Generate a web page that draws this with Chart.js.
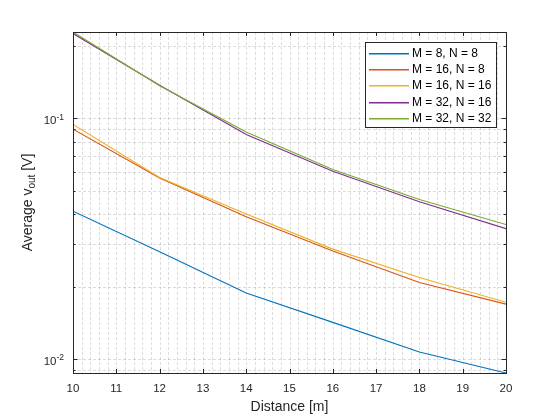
<!DOCTYPE html>
<html>
<head>
<meta charset="utf-8">
<script src="https://cdn.jsdelivr.net/npm/chart.js@4.4.1/dist/chart.umd.min.js"></script>
<style>
  html, body { margin: 0; padding: 0; background: #fff; }
  canvas { display: block; }
</style>
</head>
<body>
<canvas id="myChart" width="560" height="420"></canvas>
<script>
// values
const distance = [10, 12, 14, 16, 18, 20];
const m8n8   = [0.0411, 0.0279, 0.0188, 0.0142, 0.0107, 0.00875];
const m16n8  = [0.0900, 0.0565, 0.0390, 0.0281, 0.0208, 0.0169];
const m16n16 = [0.0942, 0.0567, 0.0400, 0.0286, 0.0218, 0.0172];
const m32n16 = [0.2246, 0.1370, 0.0856, 0.0602, 0.0450, 0.0348];
const m32n32 = [0.2280, 0.1365, 0.0877, 0.0612, 0.0460, 0.0362];

const seriesLabels = ['M = 8, N = 8', 'M = 16, N = 8', 'M = 16, N = 16', 'M = 32, N = 16', 'M = 32, N = 32'];
const seriesColors = ['#0072BD', '#D95319', '#EDB120', '#7E2F8E', '#77AC30'];
const seriesValues = [m8n8, m16n8, m16n16, m32n16, m32n32];

const xTicks = [10, 11, 12, 13, 14, 15, 16, 17, 18, 19, 20];
const yTicks = [0.01, 0.1];
const yTickExponents = ['-2', '-1'];
const xMin = 10, xMax = 20;
const yMin = 0.00875, yMax = 0.228;

const FONT = "'Liberation Sans', Arial, sans-serif";
const AXIS = '#262626';

const ctx = document.getElementById('myChart');

const matlabAxes = {
  id: 'matlabAxes',
  beforeDatasetsDraw(chart) {
    const {ctx, chartArea: a, scales: {x, y}} = chart;
    ctx.save();
    ctx.strokeStyle = 'rgba(38,38,38,0.16)';
    ctx.lineWidth = 1;
    ctx.setLineDash([3, 2]);
    ctx.beginPath();
    // x grid every 0.2
    for (let k = 1; k < 50; k++) {
      const px = Math.round(x.getPixelForValue(xMin + k * 0.2)) + 0.5;
      ctx.moveTo(px, a.top); ctx.lineTo(px, a.bottom);
    }
    for (const dec of [0.001, 0.01, 0.1]) {
      for (let m = 1; m <= 9; m++) {
        const v = m * dec;
        if (v <= yMin || v >= yMax) continue;
        const py = Math.round(y.getPixelForValue(v)) + 0.5;
        ctx.moveTo(a.left, py); ctx.lineTo(a.right, py);
      }
    }
    ctx.stroke();
    ctx.restore();
  },
  afterDraw(chart) {
    const {ctx, chartArea: a, scales: {x, y}} = chart;
    ctx.save();
    ctx.strokeStyle = AXIS;
    ctx.fillStyle = AXIS;
    ctx.lineWidth = 1;

    // ticks
    ctx.beginPath();
    xTicks.forEach(t => {
      const px = Math.round(x.getPixelForValue(t)) + 0.5;
      ctx.moveTo(px, a.bottom); ctx.lineTo(px, a.bottom - 4);
      ctx.moveTo(px, a.top); ctx.lineTo(px, a.top + 4);
    });
    for (const dec of [0.001, 0.01, 0.1]) {
      for (let m = 1; m <= 9; m++) {
        const v = m * dec;
        if (v < yMin || v > yMax) continue;
        const len = m === 1 ? 4.5 : 2.5;
        const py = Math.round(y.getPixelForValue(v)) + 0.5;
        ctx.moveTo(a.left, py); ctx.lineTo(a.left + len, py);
        ctx.moveTo(a.right, py); ctx.lineTo(a.right - len, py);
      }
    }
    ctx.stroke();

    // box
    ctx.strokeRect(Math.round(a.left) + 0.5, Math.round(a.top) + 0.5,
      Math.round(a.right - a.left), Math.round(a.bottom - a.top));

    // x tick labels
    ctx.font = '11.5px ' + FONT;
    ctx.textAlign = 'center';
    ctx.textBaseline = 'middle';
    xTicks.forEach(t => ctx.fillText(String(t), x.getPixelForValue(t), a.bottom + 16));

    // y tick labels 10^n
    yTicks.forEach((t, i) => {
      const py = y.getPixelForValue(t);
      ctx.font = '8.5px ' + FONT;
      const ew = ctx.measureText(yTickExponents[i]).width;
      ctx.textAlign = 'left';
      ctx.fillText(yTickExponents[i], a.left - 9 - ew, py - 1);
      ctx.font = '11.5px ' + FONT;
      ctx.textAlign = 'right';
      ctx.fillText('10', a.left - 9 - ew, py + 3);
    });

    // x title
    ctx.font = '14px ' + FONT;
    ctx.textAlign = 'center';
    ctx.fillText('Distance [m]', (a.left + a.right) / 2, a.bottom + 34);

    // y title with subscript
    ctx.translate(27, (a.top + a.bottom) / 2);
    ctx.rotate(-Math.PI / 2);
    ctx.textAlign = 'left';
    ctx.textBaseline = 'alphabetic';
    const parts = [['Average v', 14, 5], ['out', 10, 8], [' [V]', 14, 5]];
    let total = 0;
    parts.forEach(p => { ctx.font = p[1] + 'px ' + FONT; total += ctx.measureText(p[0]).width; });
    let cx = -total / 2;
    parts.forEach(p => {
      ctx.font = p[1] + 'px ' + FONT;
      ctx.fillText(p[0], cx, p[2]);
      cx += ctx.measureText(p[0]).width;
    });
    ctx.restore();

    // legend
    ctx.save();
    const lx = 365, ly = 42, lw = 131, lh = 85;
    ctx.fillStyle = '#fff';
    ctx.fillRect(lx, ly, lw, lh);
    ctx.strokeStyle = AXIS;
    ctx.lineWidth = 1;
    ctx.strokeRect(lx + 0.5, ly + 0.5, lw, lh);
    ctx.font = '12px ' + FONT;
    ctx.textAlign = 'left';
    ctx.textBaseline = 'middle';
    seriesLabels.forEach((label, i) => {
      const ry = Math.round(ly + 10.5 + i * 16.35);
      ctx.fillStyle = seriesColors[i];
      ctx.fillRect(lx + 4, ry, 40, 1.5);
      ctx.fillStyle = '#000';
      ctx.fillText(label, lx + 47, ry + 0.5);
    });
    ctx.restore();
  }
};

new Chart(ctx, {
  type: 'line',
  data: {
    datasets: seriesValues.map((vals, i) => ({
      label: seriesLabels[i],
      data: distance.map((d, j) => ({x: d, y: vals[j]})),
      borderColor: seriesColors[i],
      backgroundColor: seriesColors[i],
      borderWidth: 1.1,
      pointRadius: 0,
      tension: 0,
      fill: false,
      order: seriesValues.length - i
    }))
  },
  options: {
    responsive: false,
    animation: false,
    events: [],
    layout: { padding: { top: 32, right: 54, left: 0, bottom: 0 } },
    plugins: { legend: { display: false }, tooltip: { enabled: false } },
    scales: {
      x: {
        type: 'linear', min: xMin, max: xMax,
        ticks: { display: false },
        grid: { display: false },
        border: { display: false },
        afterFit: s => { s.height = 47; }
      },
      y: {
        type: 'logarithmic', min: yMin, max: yMax,
        ticks: { display: false },
        grid: { display: false },
        border: { display: false },
        afterFit: s => { s.width = 73; }
      }
    }
  },
  plugins: [matlabAxes]
});
</script>
</body>
</html>
